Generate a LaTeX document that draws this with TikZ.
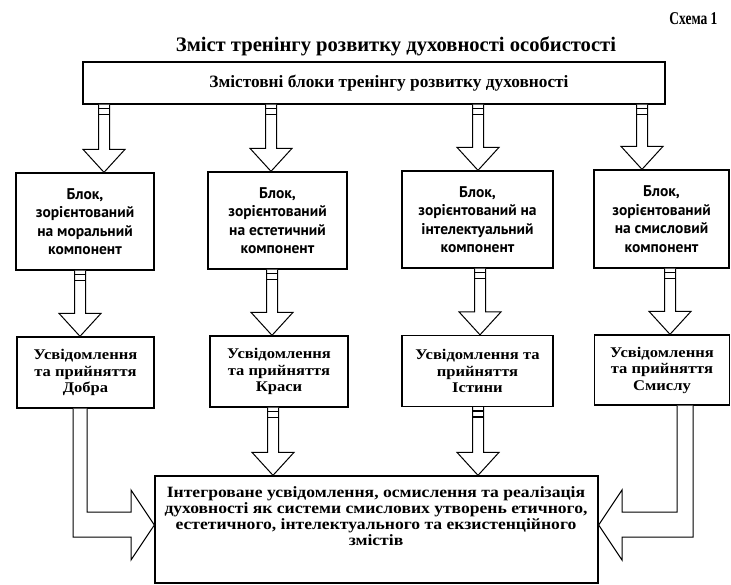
\documentclass[tikz,border=0pt]{standalone}
\usepackage{fontspec}
\setmainfont{Liberation Serif}
\newfontfamily\boxsans{PT Sans}
\newfontfamily\wideserif[FakeStretch=1.12]{Liberation Serif}
\newfontfamily\condserif[FakeStretch=0.75]{Liberation Serif}
\usetikzlibrary{calc}

\newcommand\blkarrow[3]{%
  \draw[blk] let \p1=(#1.south), \p2=(#2.north) in
    ({#3pt-5.5pt},\y1) -- ({#3pt-5.5pt},{\y2+23pt}) -- ({#3pt-21pt},{\y2+23pt})
    -- (#3pt,\y2) -- ({#3pt+21pt},{\y2+23pt}) -- ({#3pt+5.5pt},{\y2+23pt})
    -- ({#3pt+5.5pt},\y1);
  \draw[line width=1.6pt] let \p1=(#1.south) in
    ({#3pt-5.5pt},{\y1-4pt}) -- ({#3pt+5.5pt},{\y1-4pt})
    ({#3pt-5.5pt},{\y1-10pt}) -- ({#3pt+5.5pt},{\y1-10pt});
}

\begin{document}
\begin{tikzpicture}[x=1pt,y=-1pt,
  box/.style={draw, line width=1.3pt, inner sep=0pt, align=center},
  rowtwo/.style={box, font=\boxsans\bfseries\fontsize{15.5}{18.5}\selectfont},
  rowthree/.style={box, font=\wideserif\bfseries\fontsize{14.8}{16.5}\selectfont},
  blk/.style={draw, line width=1pt, line join=miter, fill=white}]
\useasboundingbox (0,0) rectangle (731,585);

\node[font=\condserif\bfseries\fontsize{18}{20}\selectfont, anchor=east] (schema) at (721,19) {Схема 1};
\node[font=\bfseries\fontsize{20.6}{24}\selectfont] (title) at (396,46) {Зміст тренінгу розвитку духовності особистості};

\node[box, minimum width=582pt, minimum height=42pt, font=\bfseries\fontsize{17.3}{18}\selectfont] (top) at (374,83) {\hspace*{30pt}Змістовні блоки тренінгу розвитку духовності};

\node[rowtwo, minimum width=138pt, minimum height=97pt] (b1) at (85,221.5) {Блок,\\зорієнтований\\на моральний\\компонент};
\node[rowtwo, minimum width=139pt, minimum height=97pt] (b2) at (277.5,220.5) {Блок,\\зорієнтований\\на естетичний\\компонент};
\node[rowtwo, minimum width=151pt, minimum height=97pt] (b3) at (477.5,219.5) {Блок,\\зорієнтований на\\інтелектуальний\\компонент};
\node[rowtwo, minimum width=135pt, minimum height=98pt] (b4) at (661.5,219) {Блок,\\зорієнтований\\на смисловий\\компонент};

\node[rowthree, minimum width=137pt, minimum height=71pt] (c1) at (85.5,372.5) {Усвідомлення\\та прийняття\\Добра};
\node[rowthree, minimum width=138pt, minimum height=71pt] (c2) at (279,371.5) {Усвідомлення\\та прийняття\\Краси};
\node[rowthree, minimum width=151pt, minimum height=71pt] (c3) at (477.5,371) {Усвідомлення та\\прийняття\\Істини};
\node[rowthree, minimum width=135pt, minimum height=70pt] (c4) at (662,370) {Усвідомлення\\та прийняття\\Смислу};

\node[box, minimum width=443pt, minimum height=107pt] (fin) at (376.5,529.5) {};
\node[align=center, inner sep=0pt, font=\wideserif\bfseries\fontsize{15.7}{16}\selectfont] (fintext) at (376,516)
  {Інтегроване усвідомлення, осмислення та реалізація\\духовності як системи смислових утворень етичного,\\естетичного, інтелектуального та екзистенційного\\змістів};

\blkarrow{top}{b1}{104}
\blkarrow{top}{b2}{271}
\blkarrow{top}{b3}{478}
\blkarrow{top}{b4}{642}

\blkarrow{b1}{c1}{80}
\blkarrow{b2}{c2}{272}
\blkarrow{b3}{c3}{480}
\blkarrow{b4}{c4}{670}

\blkarrow{c2}{fin}{273}
\blkarrow{c3}{fin}{478}

\draw[blk] let \p1=(c1.south), \p2=(fin.west) in
  (73pt,\y1) -- (73pt,-537pt) -- (131pt,-537pt) -- (131pt,-560pt) -- (\x2,-525pt)
  -- (131pt,-490pt) -- (131pt,-512pt) -- (87pt,-512pt) -- (87pt,\y1);
\draw[blk] let \p1=(c4.south), \p2=(fin.east) in
  (677pt,\y1) -- (677pt,-512pt) -- (622pt,-512pt) -- (622pt,-490pt) -- (\x2,-525pt)
  -- (622pt,-560pt) -- (622pt,-537pt) -- (693pt,-537pt) -- (693pt,\y1);
\end{tikzpicture}
\end{document}
